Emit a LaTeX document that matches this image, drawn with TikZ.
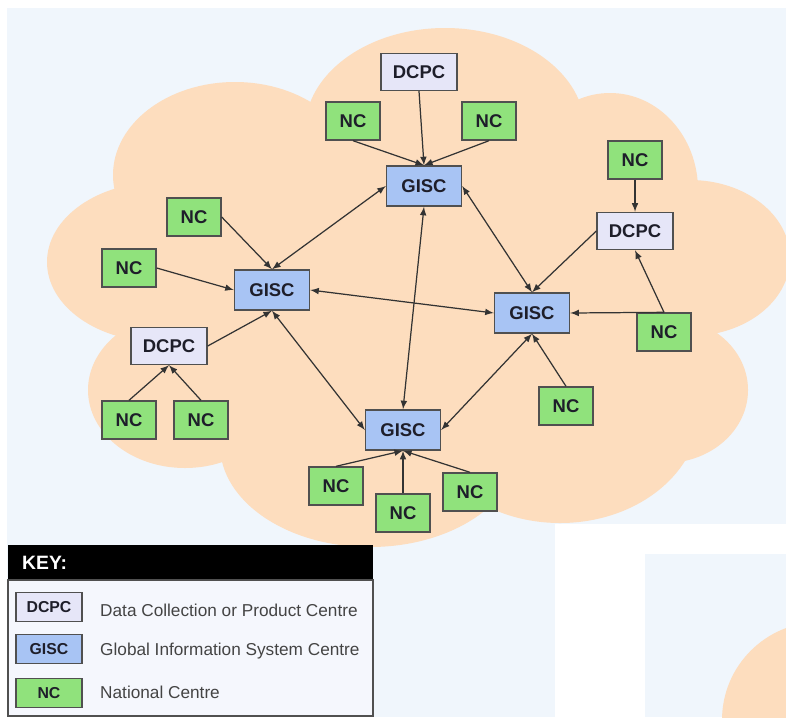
\documentclass[tikz,border=0pt]{standalone}
\usepackage{fontspec}
\setmainfont{Liberation Sans}
\usepackage{tikz}
\usetikzlibrary{arrows}
\usetikzlibrary{positioning}
\definecolor{bgblue}{HTML}{F0F6FC}
\definecolor{cloud}{HTML}{FDDDBE}
\definecolor{dcpcfill}{HTML}{E6E6F8}
\definecolor{giscfill}{HTML}{A8C4F4}
\definecolor{ncfill}{HTML}{90E27C}
\definecolor{boxline}{HTML}{505050}
\definecolor{boxtext}{HTML}{1E1E2A}
\definecolor{linkgray}{HTML}{333333}
\definecolor{keybody}{HTML}{F5F7FD}
\definecolor{keygray}{HTML}{444444}

\begin{document}
\begin{tikzpicture}[x=0.02cm, y=-0.02cm, >=latex,
    cbox/.style={draw=boxline, line width=0.8pt, inner sep=0pt, text=boxtext,
      font=\fontsize{10.5}{12}\selectfont\bfseries},
    dcpc/.style={cbox, fill=dcpcfill, minimum width=1.52cm, minimum height=0.74cm},
    gisc/.style={cbox, fill=giscfill, minimum width=1.5cm, minimum height=0.8cm},
    nc/.style={cbox, fill=ncfill, minimum width=1.08cm, minimum height=0.76cm},
    keybox/.style={minimum width=1.32cm, minimum height=0.58cm,
      font=\fontsize{9}{10}\selectfont\bfseries},
    keytext/.style={anchor=west, text=keygray, font=\fontsize{9.8}{12}\selectfont},
    link/.style={draw=linkgray, line width=0.7pt}]
    \useasboundingbox (0,0) rectangle (786,717);
    \fill [white] (0,0) rectangle (786,717);
    \fill [bgblue] (7,8) rectangle (786,717);

    \fill [cloud] (445,130) ellipse [x radius=140, y radius=102];
    \fill [cloud] (235,175) ellipse [x radius=122, y radius=93];
    \fill [cloud] (160,262) ellipse [x radius=113, y radius=80];
    \fill [cloud] (185,390) ellipse [x radius=97, y radius=78];
    \fill [cloud] (370,445) ellipse [x radius=150, y radius=102];
    \fill [cloud] (560,410) ellipse [x radius=140, y radius=113];
    \fill [cloud] (610,190) ellipse [x radius=88, y radius=97];
    \fill [cloud] (690,258) ellipse [x radius=100, y radius=78];
    \fill [cloud] (665,390) ellipse [x radius=83, y radius=73];
    \fill [cloud] (420,300) ellipse [x radius=240, y radius=160];

    \node [dcpc] (dcpc1) at (419,72) {DCPC};
    \node [nc] (nc1) at (353,121) {NC};
    \node [nc] (nc2) at (489,121) {NC};
    \node [gisc] (gisc1) at (424,186) {GISC};
    \node [nc] (nc3) at (194,217) {NC};
    \node [nc] (nc4) at (129,268) {NC};
    \node [gisc] (gisc2) at (272,290) {GISC};
    \node [dcpc] (dcpc2) at (169,346) {DCPC};
    \node [nc] (nc5) at (129,420) {NC};
    \node [nc] (nc6) at (201,420) {NC};
    \node [nc] (nc7) at (635,160) {NC};
    \node [dcpc] (dcpc3) at (635,231) {DCPC};
    \node [gisc] (gisc3) at (532,313) {GISC};
    \node [nc] (nc8) at (664,332) {NC};
    \node [nc] (nc9) at (566,406) {NC};
    \node [gisc] (gisc4) at (403,430) {GISC};
    \node [nc] (nc10) at (336,486) {NC};
    \node [nc] (nc11) at (403,513) {NC};
    \node [nc] (nc12) at (470,492) {NC};

    \draw [link, <->] (gisc1.west) -- (gisc2.north);
    \draw [link, <->] (gisc1.east) -- (gisc3.north);
    \draw [link, <->] (gisc1.south) -- (gisc4.north);
    \draw [link, <->] (gisc2.east) -- (gisc3.west);
    \draw [link, <->] (gisc2.south) -- (gisc4.west);
    \draw [link, <->] (gisc3.south) -- (gisc4.east);

    \draw [link, ->] (dcpc1.south) -- (gisc1.north);
    \draw [link, ->] (nc1.south) -- (gisc1.north);
    \draw [link, ->] (nc2.south) -- (gisc1.north);
    \draw [link, ->] (nc3.east) -- (gisc2.north);
    \draw [link, ->] (nc4.east) -- (gisc2.west);
    \draw [link, ->] (dcpc2.east) -- (gisc2.south);
    \draw [link, ->] (nc5.north) -- (dcpc2.south);
    \draw [link, ->] (nc6.north) -- (dcpc2.south);
    \draw [link, ->] (nc7.south) -- (dcpc3.north);
    \draw [link, ->] (dcpc3.west) -- (gisc3.north);
    \draw [link, ->] (nc8.north) -- (dcpc3.south);
    \draw [link, ->] (nc8.north) -- (gisc3.east);
    \draw [link, ->] (nc9.north) -- (gisc3.south);
    \draw [link, ->] (nc10.north) -- (gisc4.south);
    \draw [link, ->] (nc11.north) -- (gisc4.south);
    \draw [link, ->] (nc12.north) -- (gisc4.south);

    \fill [white] (555,524) rectangle (786,717);
    \fill [bgblue] (645,554) rectangle (786,717);
    \begin{scope}
      \clip (645,554) rectangle (786,717);
      \fill [cloud] (820,720) circle [radius=98];
    \end{scope}

    \fill [black] (8,545) rectangle (373,580);
    \node [anchor=west, text=white, font=\fontsize{11}{12}\selectfont\bfseries] (keyhead) at (16,563) {KEY:};
    \draw [boxline, line width=0.8pt, fill=keybody] (8,580) rectangle (373,716);
    \node [dcpc, keybox] (keydcpc) at (49,607) {DCPC};
    \node [gisc, keybox] (keygisc) at (49,649) {GISC};
    \node [nc, keybox] (keync) at (49,693) {NC};
    \node [keytext] (keydcpctext) at (94,610) {Data Collection or Product Centre};
    \node [keytext] (keygisctext) at (94,651) {Global Information System Centre};
    \node [keytext] (keynctext) at (94,692) {National Centre};
\end{tikzpicture}
\end{document}
